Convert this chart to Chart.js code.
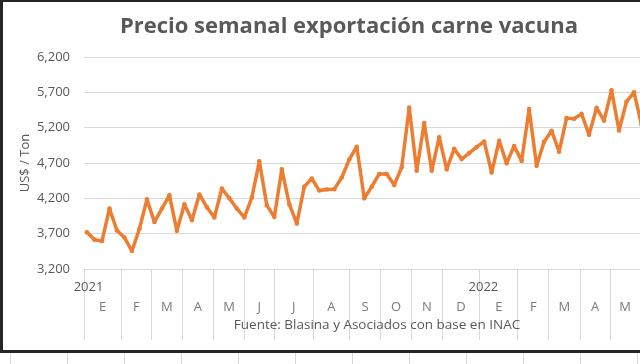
<html>
  <head>
    <script src="https://cdn.jsdelivr.net/npm/chart.js"></script>
    <meta charset="UTF-8" />
    <style>
      body {
        margin: 0;
        width: 640px;
        height: 364px;
        overflow: hidden;
        background: #fff repeating-linear-gradient(90deg, transparent 0px, transparent 10px, #d6d6d6 10px, #d6d6d6 11px, transparent 11px, transparent 57px);
      }
      #frame {
        position: absolute;
        left: 0;
        top: 0;
        width: 695px;
        height: 348px;
        border: solid #262626;
        border-width: 2px 0 3px 3px;
        background: #fff;
      }
    </style>
  </head>
  <body>
    <div id="frame">
      <canvas id="myChart" width="695" height="348"></canvas>
    </div>
    <script>
      // weekly price, US$ / Ton, jan 2021 -> may 2022 (last one runs off the picture)
      const weekValues = [
        3720, 3615, 3595, 4055, 3745, 3645, 3455, 3770, 4185, 3865,
        4055, 4245, 3740, 4115, 3890, 4255, 4075, 3930, 4340, 4200,
        4055, 3930, 4210, 4725, 4100, 3935, 4610, 4115, 3845, 4365,
        4480, 4310, 4325, 4330, 4495, 4750, 4930, 4200, 4365, 4545,
        4545, 4390, 4640, 5485, 4590, 5265, 4590, 5065, 4610, 4900,
        4755, 4840, 4925, 5005, 4565, 5015, 4695, 4940, 4730, 5465,
        4660, 5000, 5155, 4860, 5335, 5325, 5395, 5100, 5480, 5300,
        5730, 5160, 5570, 5700, 5240,
      ];
      // month letters and where each month starts, in week units
      const monthLetters = ["E", "F", "M", "A", "M", "J", "J", "A", "S", "O", "N", "D", "E", "F", "M", "A", "M"];
      const monthStarts = [-0.4, 4.6, 8.6, 12.7, 16.9, 21.0, 25.0, 30.2, 35.0, 39.2, 43.3, 47.4, 52.4, 57.5, 61.6, 65.8, 69.8, 73.8];
      const yearLabels = ["2021", "2022"];
      const yearWeeks = [0.2, 52.9];
      const yTicks = [3200, 3700, 4200, 4700, 5200, 5700, 6200];

      const font = "Open Sans";

      // one tick list for the bottom axis: month borders, year row, month row
      const xTicks = [];
      monthStarts.forEach(v => xTicks.push({ value: v, kind: "border", text: "" }));
      yearWeeks.forEach((v, i) => xTicks.push({ value: v, kind: "year", text: [yearLabels[i], ""] }));
      monthLetters.forEach((m, i) =>
        xTicks.push({ value: (monthStarts[i] + monthStarts[i + 1]) / 2, kind: "month", text: ["", m] })
      );
      xTicks.sort((a, b) => a.value - b.value);

      const points = weekValues.map((v, i) => ({ x: i, y: v }));

      const config = {
        type: "line",
        data: {
          datasets: [
            {
              data: points,
              borderColor: "#ED7D31",
              backgroundColor: "#ED7D31",
              borderWidth: 3.5,
              borderJoinStyle: "round",
              borderCapStyle: "round",
              pointRadius: 2.3,
              pointBorderWidth: 0,
              tension: 0,
            },
          ],
        },
        options: {
          responsive: false,
          animation: false,
          // left padding pushes the centred title to the right, like the original
          layout: { padding: { left: 25, right: 28, top: 0, bottom: 0 } },
          plugins: {
            legend: { display: false },
            tooltip: { enabled: false },
            title: {
              display: true,
              text: "Precio semanal exportación carne vacuna",
              color: "#595959",
              font: { family: font, size: 22, weight: "bold" },
              padding: { top: 12, bottom: 16.6 },
            },
          },
          scales: {
            x: {
              type: "linear",
              min: -0.4,
              max: 77.8,
              afterBuildTicks: scale => {
                scale.ticks = xTicks.map(t => ({ value: t.value }));
              },
              afterFit: scale => {
                scale.height = 81;
              },
              border: { display: true, color: "#d9d9d9", width: 1 },
              grid: {
                drawOnChartArea: false,
                drawTicks: true,
                tickLength: 71,
                color: ctx => (xTicks[ctx.index] && xTicks[ctx.index].kind === "border" ? "#d9d9d9" : "rgba(0,0,0,0)"),
              },
              ticks: {
                autoSkip: false,
                maxRotation: 0,
                padding: -63,
                font: { family: font, size: 13, lineHeight: 1.55 },
                color: ctx => (xTicks[ctx.index] && xTicks[ctx.index].kind === "month" ? "#7a7a7a" : "#595959"),
                callback: (value, index) => xTicks[index].text,
              },
              title: {
                display: true,
                text: "Fuente: Blasina y Asociados con base en INAC",
                color: "#595959",
                font: { family: font, size: 13.5 },
                padding: { top: 0, bottom: 17 },
              },
            },
            y: {
              min: 3200,
              max: 6200,
              afterBuildTicks: scale => {
                scale.ticks = yTicks.map(v => ({ value: v }));
              },
              afterFit: scale => {
                scale.width = 56;
              },
              border: { display: false },
              grid: { color: "#d9d9d9", drawTicks: false },
              ticks: {
                padding: 14,
                color: "#595959",
                font: { family: font, size: 13 },
                callback: value => value.toLocaleString("en-US"),
              },
              title: {
                display: true,
                text: "US$ / Ton",
                color: "#595959",
                font: { family: font, size: 13 },
                padding: { top: -11, bottom: 0 },
              },
            },
          },
        },
      };

      new Chart(document.getElementById("myChart"), config);
    </script>
  </body>
</html>
